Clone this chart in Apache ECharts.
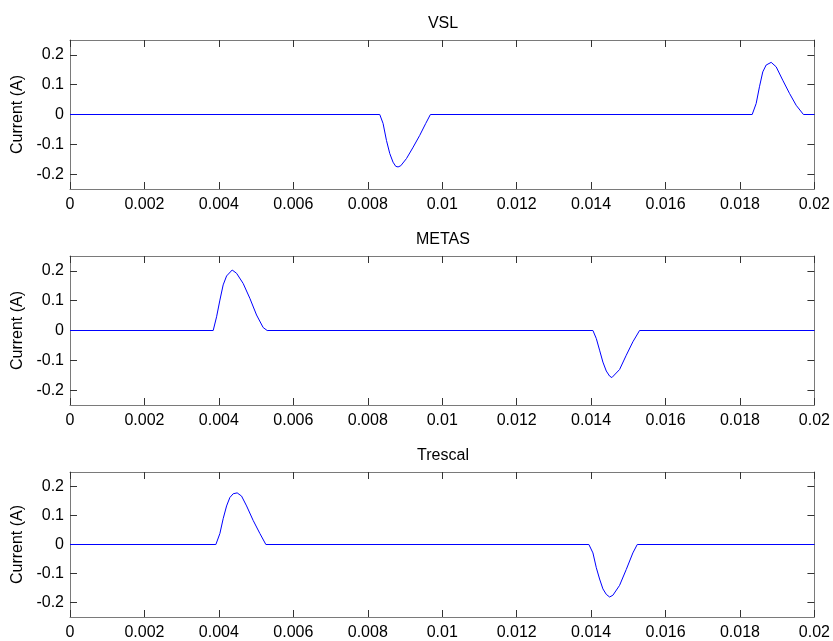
<!DOCTYPE html>
<html>
<head>
<meta charset="utf-8">
<script src="https://cdn.jsdelivr.net/npm/echarts@6/dist/echarts.min.js"></script>
<style>html,body{margin:0;padding:0;background:#fff}#c{width:833px;height:641px}</style>
</head>
<body>
<div id="c"></div>
<script>
var titles = ['VSL', 'METAS', 'Trescal'];
var xTicks = [0, 0.002, 0.004, 0.006, 0.008, 0.01, 0.012, 0.014, 0.016, 0.018, 0.02];
var yTicks = [-0.2, -0.1, 0, 0.1, 0.2];
var yLabelName = 'Current (A)';

var vsl = [
  [0, 0], [0.008322, 0], [0.008411, -0.03], [0.008502, -0.087], [0.008591, -0.131],
  [0.008679, -0.16], [0.008752, -0.174], [0.008814, -0.176], [0.008886, -0.172],
  [0.009039, -0.148], [0.009208, -0.112], [0.009396, -0.070], [0.009557, -0.030],
  [0.009683, 0], [0.018328, 0], [0.018435, 0.037], [0.018523, 0.093], [0.018612, 0.143],
  [0.018703, 0.166], [0.018838, 0.175], [0.018972, 0.160], [0.019149, 0.115],
  [0.019329, 0.071], [0.019509, 0.031], [0.019705, 0], [0.02, 0]
];
var metas = [
  [0, 0], [0.003847, 0], [0.003938, 0.046], [0.004027, 0.102], [0.004115, 0.153],
  [0.004207, 0.183], [0.004357, 0.203], [0.004475, 0.192], [0.004652, 0.158],
  [0.004832, 0.108], [0.005012, 0.052], [0.005189, 0.010], [0.005297, 0],
  [0.014049, 0], [0.014140, -0.027], [0.014228, -0.066], [0.014317, -0.106],
  [0.014408, -0.136], [0.014497, -0.153], [0.014558, -0.158], [0.014765, -0.131],
  [0.014945, -0.083], [0.015122, -0.038], [0.015302, 0], [0.02, 0]
];
var trescal = [
  [0, 0], [0.003919, 0], [0.004027, 0.038], [0.004115, 0.089], [0.004207, 0.133],
  [0.004295, 0.162], [0.004384, 0.175], [0.004491, 0.178], [0.004609, 0.167],
  [0.004744, 0.133], [0.004921, 0.083], [0.005101, 0.038], [0.005262, 0],
  [0.013941, 0], [0.014049, -0.029], [0.014140, -0.080], [0.014228, -0.119],
  [0.014317, -0.153], [0.014408, -0.172], [0.014497, -0.181], [0.014585, -0.175],
  [0.014765, -0.141], [0.014945, -0.086], [0.015122, -0.029], [0.015240, 0], [0.02, 0]
];
var seriesData = [vsl, metas, trescal];

var FONT = 'Liberation Sans';
var FS = 16;
var tops = [40, 256, 472];
var H = 149;
var lineCol = '#7a7a7a';
var tickCol = '#333';

function fmt(v) { return String(parseFloat(v.toFixed(4))); }

var grids = [], xAxes = [], yAxes = [], series = [], title = [];
for (var i = 0; i < 3; i++) {
  grids.push({ left: 70, right: 18, top: tops[i], height: H, containLabel: false });
  title.push({
    text: titles[i], left: 443, top: tops[i] - 24, textAlign: 'center', padding: 0,
    textStyle: { fontFamily: FONT, fontSize: FS, fontWeight: 'normal', color: '#000' }
  });
  var xBase = {
    type: 'value', gridIndex: i, min: 0, max: 0.02, interval: 0.002,
    axisLine: { show: true, onZero: false, lineStyle: { color: lineCol, width: 1 } },
    axisTick: { show: true, inside: true, length: 7, lineStyle: { color: tickCol } },
    splitLine: { show: false }
  };
  xAxes.push(Object.assign({}, xBase, {
    position: 'bottom',
    axisLabel: { show: true, margin: 8, color: '#000', fontFamily: FONT, fontSize: FS, formatter: fmt,
      customValues: xTicks, showMinLabel: true, showMaxLabel: true, hideOverlap: false }
  }));
  xAxes.push(Object.assign({}, xBase, { position: 'top', axisLabel: { show: false } }));
  var yBase = {
    type: 'value', gridIndex: i, min: -0.25, max: 0.25,
    axisLine: { show: true, onZero: false, lineStyle: { color: lineCol, width: 1 } },
    axisTick: { show: true, inside: true, length: 7, customValues: yTicks, lineStyle: { color: tickCol } },
    splitLine: { show: false }
  };
  yAxes.push(Object.assign({}, yBase, {
    position: 'left',
    name: yLabelName, nameLocation: 'middle', nameGap: 42, nameRotate: 90,
    nameTextStyle: { fontFamily: FONT, fontSize: FS, color: '#000' },
    axisLabel: { show: true, margin: 6, color: '#000', fontFamily: FONT, fontSize: FS, formatter: fmt, customValues: yTicks }
  }));
  yAxes.push(Object.assign({}, yBase, { position: 'right', axisLabel: { show: false } }));
  series.push({
    type: 'line', xAxisIndex: i * 2, yAxisIndex: i * 2, data: seriesData[i],
    showSymbol: false, symbol: 'none', smooth: false, animation: false,
    lineStyle: { color: '#0000ff', width: 1 }
  });
}

var chart = echarts.init(document.getElementById('c'), null, { renderer: 'canvas' });
chart.setOption({
  backgroundColor: '#fff',
  animation: false,
  title: title,
  grid: grids,
  xAxis: xAxes,
  yAxis: yAxes,
  series: series
});
</script>
</body>
</html>
